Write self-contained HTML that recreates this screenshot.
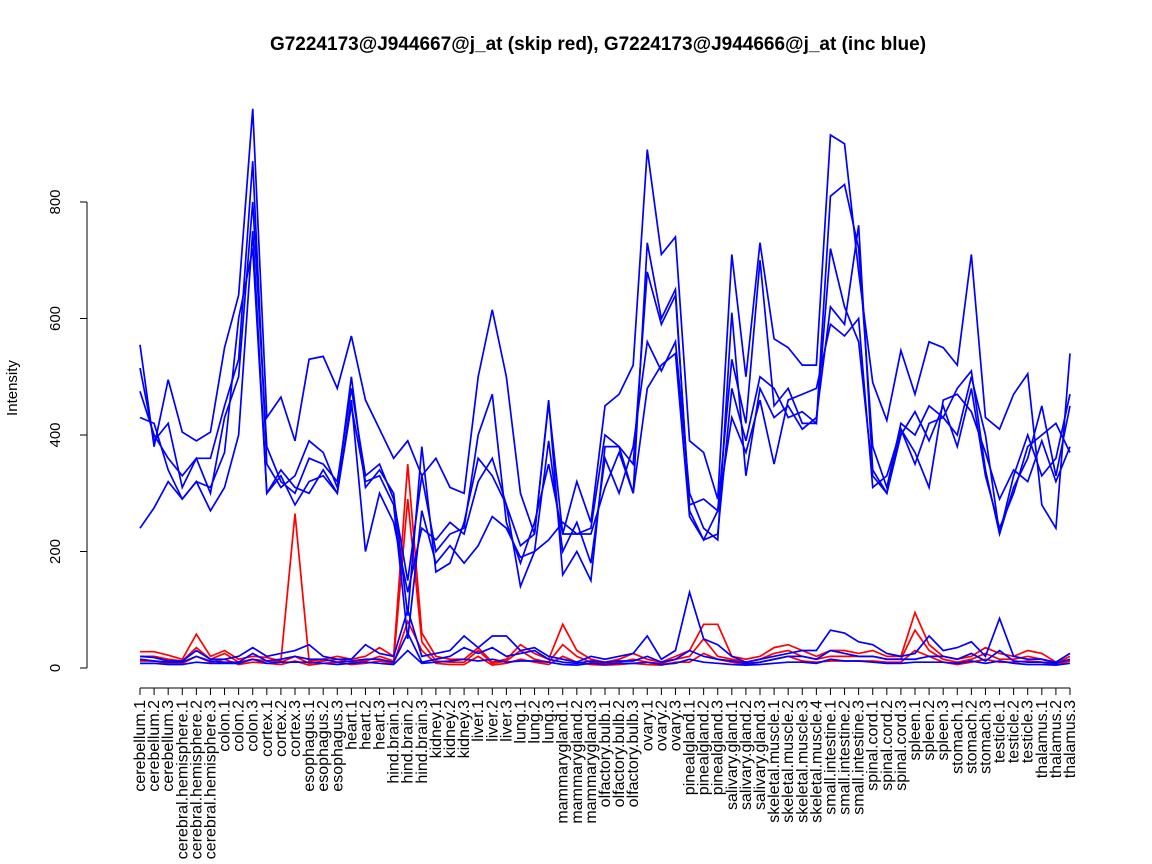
<!DOCTYPE html>
<html><head><meta charset="utf-8"><style>body{margin:0;background:#fff}svg{display:block;font-family:"Liberation Sans",sans-serif}</style></head>
<body>
<svg id="chart" width="1152" height="864" viewBox="0 0 1152 864" xmlns="http://www.w3.org/2000/svg">
<text x="598" y="50" text-anchor="middle" font-size="19" font-weight="bold">G7224173@J944667@j_at (skip red), G7224173@J944666@j_at (inc blue)</text>
<text transform="translate(17,388) rotate(-90)" text-anchor="middle" font-size="15">Intensity</text>
<g id="axes"></g><g id="series"></g>
</svg>
<script>
const categories=["cerebellum.1","cerebellum.2","cerebellum.3","cerebral.hemisphere.1","cerebral.hemisphere.2","cerebral.hemisphere.3","colon.1","colon.2","colon.3","cortex.1","cortex.2","cortex.3","esophagus.1","esophagus.2","esophagus.3","heart.1","heart.2","heart.3","hind.brain.1","hind.brain.2","hind.brain.3","kidney.1","kidney.2","kidney.3","liver.1","liver.2","liver.3","lung.1","lung.2","lung.3","mammarygland.1","mammarygland.2","mammarygland.3","olfactory.bulb.1","olfactory.bulb.2","olfactory.bulb.3","ovary.1","ovary.2","ovary.3","pinealgland.1","pinealgland.2","pinealgland.3","salivary.gland.1","salivary.gland.2","salivary.gland.3","skeletal.muscle.1","skeletal.muscle.2","skeletal.muscle.3","skeletal.muscle.4","small.intestine.1","small.intestine.2","small.intestine.3","spinal.cord.1","spinal.cord.2","spinal.cord.3","spleen.1","spleen.2","spleen.3","stomach.1","stomach.2","stomach.3","testicle.1","testicle.2","testicle.3","thalamus.1","thalamus.2","thalamus.3"];
const yTicks=[0,200,400,600,800];
const red1=[28,28,22,15,58,20,30,15,20,18,12,265,12,15,20,15,20,35,20,350,60,20,15,15,35,10,15,40,25,15,75,30,15,10,15,25,15,10,20,30,75,75,20,15,20,35,40,30,20,30,30,25,30,20,20,95,40,20,15,20,35,25,20,30,25,10,25];
const red2=[20,20,15,12,35,15,25,10,15,12,10,20,8,12,15,10,12,20,12,290,45,12,10,10,30,8,12,30,15,10,40,20,10,8,10,15,10,8,15,20,50,20,15,10,15,25,30,20,15,20,20,20,20,15,15,65,30,15,10,15,25,15,15,20,15,8,20];
const red3=[12,12,8,8,20,10,15,6,10,8,6,12,5,8,10,6,8,12,8,80,30,8,6,6,20,5,8,15,10,6,20,10,6,5,6,8,6,5,10,10,25,15,10,6,10,15,20,12,10,12,12,12,12,10,10,30,20,10,6,10,15,10,10,12,10,5,12];
const blueA=[555,380,495,405,390,405,550,640,960,430,465,390,530,535,480,570,460,410,360,390,330,360,310,300,500,615,500,300,230,455,230,320,250,450,470,520,890,710,740,390,370,290,710,500,730,565,550,520,520,915,900,680,490,425,545,470,560,550,520,710,430,410,470,505,280,240,540];
const blueB=[515,390,420,310,360,360,450,530,870,350,310,330,390,370,310,500,310,340,300,90,380,165,180,250,360,330,280,210,230,460,160,200,150,380,380,300,730,600,650,270,220,230,480,390,500,480,430,440,420,720,620,560,330,300,400,440,390,450,380,480,330,240,300,380,400,420,370];
const blueC=[475,400,360,330,360,300,430,500,800,380,320,300,360,350,320,480,330,350,290,150,330,200,230,240,400,470,250,180,250,350,230,230,240,400,380,350,680,590,640,280,290,270,530,420,700,450,480,420,420,810,830,720,380,310,420,400,450,430,400,500,400,230,330,400,330,360,470];
const blueD=[430,420,340,290,320,270,310,400,750,300,330,280,320,330,300,460,200,300,250,130,240,220,250,230,320,360,280,140,200,390,200,250,180,360,300,380,560,510,560,300,240,220,610,330,480,430,450,410,430,620,590,760,340,300,410,350,420,430,480,510,340,230,310,360,450,330,450];
const blueE=[240,275,320,290,320,310,370,600,720,300,340,310,300,340,300,450,320,330,280,50,270,180,210,180,210,260,240,190,200,220,250,230,230,310,370,300,480,520,540,260,220,270,430,370,460,350,460,470,480,590,570,600,310,330,410,370,310,460,470,440,370,290,340,320,390,320,380];
const blueL1=[20,18,12,12,30,15,15,20,35,20,25,30,40,20,15,15,40,25,20,100,20,25,30,55,35,55,55,30,35,20,15,10,20,15,20,25,55,15,30,130,50,40,20,10,15,20,25,30,30,65,60,45,40,25,20,25,55,30,35,45,20,85,20,15,15,10,25];
const blueL2=[15,12,10,10,20,12,10,10,25,12,15,20,15,15,10,12,15,15,10,60,10,15,20,35,25,35,20,25,30,15,10,8,12,10,12,12,20,10,15,30,20,15,12,8,10,15,20,20,15,30,25,20,20,15,15,15,20,20,15,25,12,30,12,10,10,8,15];
const blueL3=[8,8,6,6,10,8,8,8,15,8,10,10,10,8,6,8,10,8,6,30,8,10,12,15,12,15,10,12,12,10,6,5,8,6,8,8,10,6,8,15,10,8,6,5,6,8,10,10,8,15,12,12,10,8,8,10,10,10,8,12,8,12,8,6,6,5,8];
const NS="http://www.w3.org/2000/svg";
const X0=140,X1=1070,Y0=668,YS=(668-202)/800;
function xs(i){return X0+i*(X1-X0)/(categories.length-1);}
function ys(v){return Y0-v*YS;}
function mk(t,a,p){const e=document.createElementNS(NS,t);for(const k in a)e.setAttribute(k,a[k]);p.appendChild(e);return e;}
const ax=document.getElementById('axes');
let e=mk('line',{x1:87,x2:87,y1:ys(0),y2:ys(800),stroke:'#000'},ax);


yTicks.forEach(v=>{
 let t=mk('line',{x1:80,x2:87,y1:ys(v),y2:ys(v),stroke:'#000'},ax);
 
 
 let l=mk('text',{transform:`translate(60,${ys(v)}) rotate(-90)`,'text-anchor':'middle','font-size':15},ax);
 
 
 l.textContent=v;
});
e=mk('line',{x1:xs(0),x2:xs(categories.length-1),y1:688,y2:688,stroke:'#000'},ax);


categories.forEach((c,i)=>{
 let t=mk('line',{x1:xs(i),x2:xs(i),y1:688,y2:695,stroke:'#000'},ax);
 
 
 let l=mk('text',{transform:`translate(${xs(i)+5},700) rotate(-90)`,'text-anchor':'end','font-size':16},ax);
 
 
 l.textContent=c;
});
const sg=document.getElementById('series');
function draw(arr,col,name){
 const p=mk('polyline',{points:arr.map((v,i)=>xs(i)+','+ys(v)).join(' '),fill:'none',stroke:col,'stroke-width':1.7},sg);
 
 
}
draw(red1,'#ff0000','skip-red-line-1');draw(red2,'#ff0000','skip-red-line-2');draw(red3,'#ff0000','skip-red-line-3');
draw(blueA,'#0000ff','inc-blue-line-1');draw(blueB,'#0000ff','inc-blue-line-2');draw(blueC,'#0000ff','inc-blue-line-3');
draw(blueD,'#0000ff','inc-blue-line-4');draw(blueE,'#0000ff','inc-blue-line-5');
draw(blueL1,'#0000ff','inc-blue-low-line-1');draw(blueL2,'#0000ff','inc-blue-low-line-2');draw(blueL3,'#0000ff','inc-blue-low-line-3');
</script>
</body></html>
